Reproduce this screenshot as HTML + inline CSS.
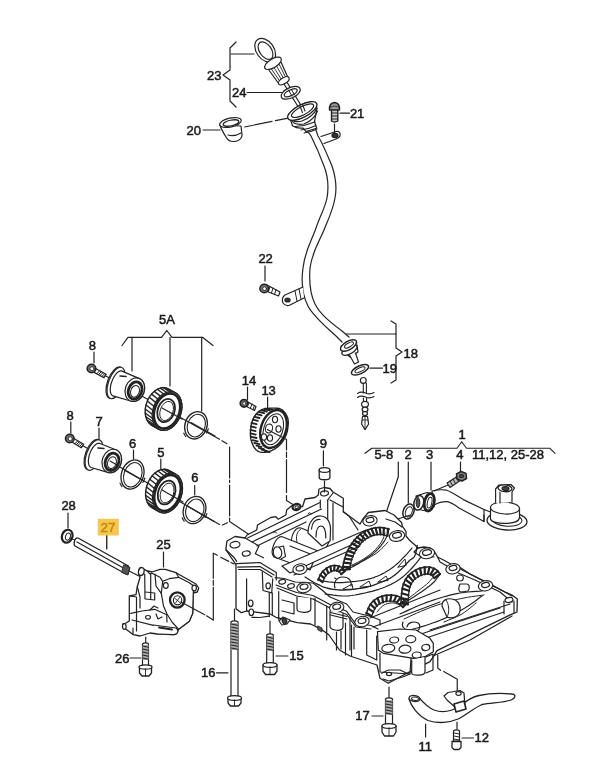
<!DOCTYPE html>
<html><head><meta charset="utf-8"><style>
html,body{margin:0;padding:0;background:#fff;}
svg{display:block;filter:blur(0.4px);}
text{font-family:"Liberation Sans",sans-serif;font-size:13px;fill:#1a1a1a;stroke:#1a1a1a;stroke-width:0.5px;}
</style></head><body>
<svg width="600" height="773" viewBox="0 0 600 773">
<rect width="600" height="773" fill="#fff"/>
<g fill="none" stroke="#222" stroke-width="1.2" stroke-linejoin="round" stroke-linecap="round">
<!-- ===== TOP: dipstick ===== -->
<!-- brace 23 -->
<path d="M236,42 L230,48 L230,70 L223,75 L230,80 L230,101 L236,107"/>
<path d="M231,54 L254,54"/>
<path d="M247,92.5 L282,92.5"/>
<path d="M203,130 L220,130"/>
<!-- cap 20 -->
<g fill="#fff">
<path d="M220,125 Q221,129 226,137 Q229,143 237,141 Q242,139 242,135 L241,126 Z"/>
<ellipse cx="230.5" cy="122.5" rx="11" ry="4.5" transform="rotate(-12 230.5 122.5)"/>
<ellipse cx="231" cy="123" rx="8" ry="2.8" transform="rotate(-12 231 123)"/>
</g>
<path d="M228,135 Q234,137 241,133"/>
<!-- dashed line cap->funnel -->
<path d="M244.6,127 L287,118.3" stroke-dasharray="28 3.5 14"/>
<!-- ring -->
<g fill="#fff">
<ellipse cx="265.2" cy="50.2" rx="8.8" ry="13" transform="rotate(-35 265.2 50.2)"/>
<ellipse cx="265.5" cy="50.6" rx="5.9" ry="9.9" transform="rotate(-35 265.5 50.6)"/>
</g>
<!-- grip -->
<path d="M266,66 L279,84 Q284,85 289,80 L281,62 Z" fill="#fff"/>
<path d="M270,67 L281,83 M273,66 L283,82 M276,65 L285,81 M279,64 L287,80" stroke-width="0.9"/>
<ellipse cx="273" cy="63.3" rx="9.5" ry="4.3" transform="rotate(-32 273 63.3)" fill="#fff"/>
<ellipse cx="283.8" cy="80.8" rx="6" ry="3" transform="rotate(-32 283.8 80.8)" fill="#fff"/>
<!-- shaft -->
<path d="M284,84 L302,113 M287.5,83 L305,112"/>
<!-- washer 24 -->
<ellipse cx="290.7" cy="92.8" rx="10.3" ry="5.2" transform="rotate(-25 290.7 92.8)" fill="#fff"/>
<ellipse cx="290.7" cy="92.8" rx="7" ry="2.8" transform="rotate(-25 290.7 92.8)"/>
<path d="M288.5,90 L292,96 M291.5,89.5 L294.5,95" stroke-width="1"/>

<!-- ===== tube ===== -->
<path d="M305.6,129 C308,132 310,134 311,136 C314,142 318,150 324,166 C328,176 329,186 327,198 C325,208 320,216 316,228 C312,240 305,250 303,268 C301,282 303,296 308,306 C313,316 325,326 336,336 L342,342"/>
<path d="M315,128 C316,130 317,133 318,136 C322,142 326,152 332,166 C336,178 337,188 335,198 C333,210 328,220 324,230 C320,240 312,252 310,268 C309,282 311,296 315,304 C320,314 330,322 342,331 L349,337"/>
<!-- neck of funnel -->
<path d="M288.5,114 L292.5,125.8 C296,128 300,128.5 303,128 L306,131.5 L316.7,128.3 L314.5,121.7 L317,108 Z" fill="#fff"/>
<path d="M295,126.5 Q305,126 315,122 M301,130 Q309,129 316,125.5 M304,133 Q311,132 317,129" stroke-width="1.1"/>
<path d="M288.6,114.5 Q292,124 302,121 Q313,117 317,108" stroke-width="1.2"/>
<path d="M290,118.5 Q294,126 304,124 Q314,120 317.5,111" stroke-width="1.2"/>
<ellipse cx="302.3" cy="111" rx="16.2" ry="6.3" transform="rotate(-27.5 302.3 111)" fill="#fff" stroke-width="1.4"/>
<ellipse cx="302.6" cy="110.7" rx="12.3" ry="4.2" transform="rotate(-27.5 302.6 110.7)" stroke-width="1.2"/>
<path d="M299.5,105 L302.5,112.5 M302.5,104.5 L305,111" stroke-width="1.1"/>
<!-- tab near 21 -->
<path d="M321,136.5 L336,131.5 Q341,131 340,136 Q339,138 336,139 L324,143.5" fill="#fff"/>
<ellipse cx="335" cy="135.5" rx="3" ry="2.2" fill="#333"/>
<path d="M334.5,124 L334.5,133"/>
<!-- bolt 21 -->
<path d="M331.5,110 L331.5,121 Q334.5,123 337.8,121 L337.8,110" fill="#ccc" stroke-width="1.4"/>
<path d="M332,113 L337.5,113 M332,116 L337.5,116 M332,119 L337.5,119" stroke-width="1"/>
<path d="M329.5,110 Q329,103 334.5,102.5 Q340,103 339.5,110 Z" fill="#999" stroke-width="1.4"/>
<path d="M330,107 Q334.5,105 339,107" stroke-width="0.8"/>
<path d="M340,113.2 L349.5,113.2"/>
<!-- tab near 22 -->
<path d="M303,287 L285,295 Q281,298 283,303 Q286,307 290,305 L304,298" fill="#fff"/>
<ellipse cx="287.5" cy="300" rx="2.6" ry="2" fill="#333"/>
<path d="M295,291 L297,301 M299,289 L301,299" stroke-width="1"/>
<!-- bolt 22 -->
<path d="M265,266 L265,281"/>
<path d="M267,285 L280,292 L278.5,296 L266,291" fill="#fff"/>
<path d="M270,286.5 L268.5,291.5 M273,288 L271.5,293 M276,289.5 L274.5,294.5" stroke-width="1"/>
<circle cx="264.2" cy="288.5" r="4.3" fill="#777" stroke-width="1.5"/>
<circle cx="264.6" cy="288.7" r="1.9" fill="#fff" stroke-width="0.9"/>
<!-- ===== lower dipstick 18/19 ===== -->
<path d="M346,334 L396,334"/>
<path d="M391,321 L396,324 L396,348 L402,352 L396,356 L396,380 L391,383"/>
<path d="M341,346 L344,352 L350,357 L358,352 L357,345 Z" fill="#fff"/>
<ellipse cx="349.5" cy="350" rx="8.5" ry="3.8" transform="rotate(-30 349.5 350)" fill="#fff" stroke-width="1.3"/>
<ellipse cx="348.5" cy="345.5" rx="9" ry="4.2" transform="rotate(-30 348.5 345.5)" fill="#fff" stroke-width="1.5"/>
<ellipse cx="349" cy="345" rx="5" ry="2" transform="rotate(-30 349 345)" stroke-width="1"/>
<path d="M349.5,355 L354.5,364 L358.5,362 L355.5,353" fill="#fff"/>
<ellipse cx="360" cy="369.8" rx="9.3" ry="3.9" transform="rotate(-25 360 369.8)" fill="#fff" stroke-width="1.5"/>
<ellipse cx="360" cy="369.8" rx="5.5" ry="1.9" transform="rotate(-25 360 369.8)" stroke-width="1"/>
<path d="M370,368.1 L382.5,368.1"/>
<circle cx="363.3" cy="380.4" r="2.9" fill="#fff"/>
<path d="M363.3,383.3 L363.3,393 M366.4,383.3 L366.4,393" stroke-width="1.1"/>
<path d="M357.5,393.5 Q361,391 365.5,393 Q370,395 374,392.5 M357.5,397.5 Q361,395 365.5,397 Q370,399 374,396.5" stroke-width="1.1"/>
<path d="M363.4,398 L363.4,401 M366.6,398 L366.6,401" stroke-width="1.1"/>
<ellipse cx="365" cy="404.3" rx="3.4" ry="3" fill="#fff" stroke-width="1.2"/>
<ellipse cx="365" cy="409.4" rx="2.9" ry="2.3" fill="#fff" stroke-width="1.2"/>
<ellipse cx="365" cy="413.6" rx="2.5" ry="2" fill="#fff" stroke-width="1.2"/>
<path d="M362.5,416.5 L367.5,416.5 L368.6,424 L365,429.6 L361.6,424 Z" fill="#fff" stroke-width="1.2"/>
<path d="M362.2,420 L367.9,420 M365,416.5 L365,429" stroke-width="0.9"/>
<path d="M122,345.5 L128,337.3 L161.5,337.3 L166.8,330.5 L172,337.3 L202.5,337.3 L213,345.5"/>
<path d="M132,337.3 L132,371 M170,337.3 L170,386 M201.7,337.3 L201.7,411"/>
<path d="M94,352 L94,363 M70.8,422 L70.8,433 M99,428 L99,439 M133.5,450 L133.5,459 M160.8,459 L160.8,469 M194.7,485.5 L194.7,495"/>
<path d="M95,370 L219.5,439.3 M222,440.7 L227,443.8"/>
<path d="M229.6,447 L229.6,521.5" stroke-dasharray="31 2 2.5 2.5"/>
<path d="M229.6,521.5 L249,534.5"/>
<path d="M73,440 L219.5,524.5 M222.5,525 L227.5,522.8"/>
<path d="M92.7,371.6 L104.0,377.8 L106.0,374.2 L94.8,367.9" fill="#fff"/>
<path d="M96.7,373.8 L99.8,370.7" stroke-width="1"/>
<path d="M98.4,374.7 L101.4,371.6" stroke-width="1"/>
<path d="M100.0,375.6 L103.1,372.6" stroke-width="1"/>
<path d="M101.7,376.6 L104.8,373.5" stroke-width="1"/>
<path d="M103.2,377.4 L106.3,374.3" stroke-width="1"/>
<circle cx="91.5" cy="368.5" r="4.3" fill="#777" stroke-width="1.6"/>
<circle cx="92.0" cy="368.8" r="2.1" fill="#fff" stroke="#333" stroke-width="1"/>
<path d="M71.0,441.6 L81.4,447.8 L83.6,444.2 L73.1,438.0" fill="#fff"/>
<path d="M74.6,443.8 L77.8,440.8" stroke-width="1"/>
<path d="M76.2,444.7 L79.4,441.7" stroke-width="1"/>
<path d="M77.8,445.6 L80.9,442.6" stroke-width="1"/>
<path d="M79.3,446.6 L82.5,443.6" stroke-width="1"/>
<path d="M80.7,447.4 L83.9,444.4" stroke-width="1"/>
<circle cx="69.8" cy="438.5" r="4.3" fill="#777" stroke-width="1.6"/>
<circle cx="70.3" cy="438.8" r="2.1" fill="#fff" stroke="#333" stroke-width="1"/>
<ellipse cx="115" cy="382.6" rx="7.5" ry="16.5" transform="rotate(20 115 382.6)" fill="#fff"/>
<ellipse cx="116" cy="383" rx="7.5" ry="16.5" transform="rotate(20 116 383)" fill="#fff"/>
<path d="M110.3,389.1 L110.4,387.9 L110.5,386.7 L110.7,385.4 L111.0,384.1 L111.4,382.8 L111.9,381.4 L112.4,380.2 L112.9,378.9 L113.5,377.7 L114.2,376.6 L114.9,375.5 L115.6,374.6 L116.3,373.7 L117.1,372.9 L117.8,372.3 L118.6,371.7 L119.3,371.3 L120.0,371.1 L120.7,370.9 L121.4,370.9 L122.0,371.1 L138.9,378.4 L139.8,378.8 L140.7,379.4 L141.5,380.0 L142.2,380.7 L142.8,381.6 L143.4,382.5 L143.8,383.5 L144.2,384.6 L144.4,385.7 L144.6,386.9 L144.6,388.1 L144.6,389.3 L144.4,390.5 L144.1,391.8 L143.7,392.9 L143.2,394.1 L142.7,395.2 L142.0,396.3 L141.3,397.2 L140.5,398.1 L139.6,399.0 L138.7,399.7 L137.7,400.2 L136.7,400.7 L135.7,401.1 L134.7,401.3 L133.7,401.4 L132.6,401.4 L131.7,401.2 L130.7,401.0 L113.0,395.9 L112.4,395.6 L111.9,395.2 L111.5,394.7 L111.1,394.0 L110.8,393.2 L110.5,392.3 L110.4,391.3 L110.3,390.3 Z" fill="#fff"/>
<ellipse cx="134.8" cy="389.7" rx="9.5" ry="12" transform="rotate(20 134.8 389.7)" fill="#fff"/>
<ellipse cx="135.10000000000002" cy="390.5" rx="6.6499999999999995" ry="8.879999999999999" transform="rotate(20 135.10000000000002 390.5)" stroke-width="2.8"/>
<ellipse cx="135.0" cy="391.3" rx="4.275" ry="6.0" transform="rotate(20 135.0 391.3)" fill="#fff" stroke-width="1"/>
<path d="M120,376 L126,376.5" stroke-width="1.6"/>
<path d="M145.2,410.7 L145.3,409.0 L145.5,407.3 L145.9,405.6 L146.3,404.0 L146.9,402.3 L147.5,400.7 L148.2,399.1 L149.1,397.6 L150.0,396.2 L151.0,394.8 L152.0,393.6 L153.2,392.4 L154.3,391.4 L155.6,390.4 L156.8,389.6 L158.1,389.0 L159.4,388.4 L160.7,388.1 L161.9,387.8 L163.2,387.7 L164.5,387.8 L165.7,388.0 L166.9,388.3 L168.0,388.8 L175.0,392.7 L176.0,393.3 L177.0,394.1 L177.9,395.0 L178.8,396.0 L179.5,397.1 L180.2,398.4 L180.7,399.7 L181.1,401.1 L181.5,402.6 L181.7,404.1 L181.8,405.8 L181.8,407.4 L181.7,409.1 L181.5,410.8 L181.1,412.4 L180.7,414.1 L180.2,415.8 L179.5,417.4 L178.8,419.0 L177.9,420.5 L177.0,421.9 L176.0,423.3 L175.0,424.5 L173.8,425.7 L172.7,426.8 L171.5,427.7 L170.2,428.5 L168.9,429.1 L167.7,429.7 L166.4,430.1 L165.1,430.3 L163.8,430.4 L162.6,430.3 L161.3,430.1 L160.2,429.8 L159.0,429.3 L152.1,425.4 L151.0,424.8 L150.0,424.0 L149.1,423.1 L148.3,422.1 L147.5,421.0 L146.9,419.8 L146.3,418.4 L145.9,417.0 L145.5,415.5 L145.3,414.0 L145.2,412.4 Z" fill="#fff" stroke-width="1.4"/>
<path d="M180.2,415.8 L172.7,413.2" stroke-width="1.4"/>
<path d="M178.4,419.6 L170.8,416.9" stroke-width="1.4"/>
<path d="M176.2,423.0 L168.4,420.2" stroke-width="1.4"/>
<path d="M173.6,425.9 L165.7,422.9" stroke-width="1.4"/>
<path d="M170.7,428.2 L162.7,424.9" stroke-width="1.4"/>
<path d="M167.7,429.7 L159.6,426.1" stroke-width="1.4"/>
<path d="M164.6,430.4 L156.6,426.5" stroke-width="1.4"/>
<path d="M161.6,430.2 L153.6,426.1" stroke-width="1.4"/>
<path d="M158.8,429.2 L151.0,424.8" stroke-width="1.4"/>
<path d="M156.4,427.4 L148.7,422.7" stroke-width="1.4"/>
<path d="M154.5,424.9 L147.0,420.0" stroke-width="1.4"/>
<path d="M153.1,421.8 L145.8,416.7" stroke-width="1.4"/>
<path d="M152.3,418.2 L145.2,413.0" stroke-width="1.4"/>
<path d="M152.2,414.3 L145.3,409.0" stroke-width="1.4"/>
<path d="M152.7,410.2 L146.0,405.0" stroke-width="1.4"/>
<path d="M153.8,406.2 L147.4,401.0" stroke-width="1.4"/>
<path d="M155.6,402.4 L149.3,397.3" stroke-width="1.4"/>
<path d="M157.8,399.0 L151.6,394.1" stroke-width="1.4"/>
<path d="M160.4,396.1 L154.3,391.4" stroke-width="1.4"/>
<path d="M163.3,393.8 L157.3,389.3" stroke-width="1.4"/>
<path d="M166.3,392.3 L160.4,388.1" stroke-width="1.4"/>
<path d="M169.4,391.6 L163.5,387.7" stroke-width="1.4"/>
<path d="M172.4,391.8 L166.4,388.2" stroke-width="1.4"/>
<path d="M175.2,392.8 L169.0,389.4" stroke-width="1.4"/>
<path d="M177.6,394.6 L171.3,391.5" stroke-width="1.4"/>
<path d="M179.5,397.1 L173.0,394.2" stroke-width="1.4"/>
<path d="M180.9,400.2 L174.2,397.5" stroke-width="1.4"/>
<path d="M181.7,403.8 L174.8,401.2" stroke-width="1.4"/>
<path d="M181.8,407.7 L174.7,405.2" stroke-width="1.4"/>
<path d="M181.3,411.8 L174.0,409.2" stroke-width="1.4"/>
<ellipse cx="167" cy="411" rx="14" ry="20" transform="rotate(20 167 411)" fill="#fff" stroke-width="1.3"/>
<ellipse cx="167" cy="411" rx="12.4" ry="18.2" transform="rotate(20 167 411)" stroke-width="2.6"/>
<ellipse cx="166.127" cy="410.513" rx="8.4" ry="12.0" transform="rotate(20 166.127 410.513)" fill="#fff" stroke-width="1.8"/>
<ellipse cx="166.627" cy="411.013" rx="6.4" ry="10.0" transform="rotate(20 166.627 411.013)" stroke-width="0.9"/>
<path d="M162,408 L182,419"/>
<ellipse cx="196" cy="425.3" rx="11" ry="14" transform="rotate(20 196 425.3)" stroke-width="1.3"/>
<ellipse cx="196.3" cy="425.6" rx="8.8" ry="11.6" transform="rotate(20 196.3 425.6)" stroke-width="1.1"/>
<path d="M208.3,428.9 L208.1,429.6 L207.8,430.3 L207.5,431.0 L207.2,431.6 L206.9,432.3 L206.5,432.9" stroke-width="1.2"/>
<path d="M185.7,436.5 L185.4,436.0 L185.0,435.5 L184.7,435.0 L184.4,434.4 L184.1,433.8 L183.8,433.2" stroke-width="1.2"/>
<path d="M191,422.5 L215,436"/>
<ellipse cx="93" cy="454.6" rx="7.5" ry="16" transform="rotate(20 93 454.6)" fill="#fff"/>
<ellipse cx="94" cy="455" rx="7.5" ry="16" transform="rotate(20 94 455)" fill="#fff"/>
<path d="M88.4,460.9 L88.4,459.7 L88.6,458.5 L88.8,457.3 L89.1,456.0 L89.4,454.7 L89.9,453.4 L90.3,452.2 L90.9,451.0 L91.5,449.8 L92.1,448.7 L92.8,447.7 L93.5,446.8 L94.2,445.9 L95.0,445.2 L95.7,444.6 L96.5,444.1 L97.2,443.7 L97.9,443.4 L98.6,443.3 L99.3,443.3 L99.9,443.5 L115.8,449.7 L116.8,450.1 L117.6,450.6 L118.4,451.3 L119.1,452.0 L119.8,452.9 L120.3,453.8 L120.8,454.8 L121.1,455.9 L121.4,457.0 L121.5,458.2 L121.6,459.4 L121.5,460.6 L121.3,461.8 L121.1,463.1 L120.7,464.2 L120.2,465.4 L119.6,466.5 L119.0,467.6 L118.2,468.6 L117.4,469.4 L116.6,470.3 L115.6,471.0 L114.7,471.6 L113.7,472.0 L112.7,472.4 L111.6,472.6 L110.6,472.7 L109.6,472.7 L108.6,472.6 L107.7,472.3 L91.1,467.5 L90.6,467.2 L90.0,466.8 L89.6,466.3 L89.2,465.6 L88.9,464.9 L88.6,464.0 L88.5,463.1 L88.4,462.0 Z" fill="#fff"/>
<ellipse cx="111.75" cy="461" rx="9.5" ry="12" transform="rotate(20 111.75 461)" fill="#fff"/>
<ellipse cx="112.05" cy="461.8" rx="6.6499999999999995" ry="8.879999999999999" transform="rotate(20 112.05 461.8)" stroke-width="2.8"/>
<ellipse cx="111.95" cy="462.6" rx="4.275" ry="6.0" transform="rotate(20 111.95 462.6)" fill="#fff" stroke-width="1"/>
<path d="M98,448 L104,448.5" stroke-width="1.6"/>
<path d="M110,461 L118,465.5"/>
<ellipse cx="132.5" cy="474.5" rx="11" ry="15" transform="rotate(20 132.5 474.5)" stroke-width="1.3"/>
<ellipse cx="132.8" cy="474.8" rx="8.8" ry="12.6" transform="rotate(20 132.8 474.8)" stroke-width="1.1"/>
<path d="M144.8,478.0 L144.6,478.8 L144.3,479.5 L144.0,480.2 L143.7,480.9 L143.3,481.6 L142.9,482.3" stroke-width="1.2"/>
<path d="M121.9,486.6 L121.6,486.1 L121.2,485.5 L120.9,484.9 L120.6,484.3 L120.3,483.7 L120.1,483.1" stroke-width="1.2"/>
<path d="M125,470.5 L140,479"/>
<path d="M145.6,494.6 L145.6,492.9 L145.8,491.2 L146.0,489.5 L146.3,487.7 L146.8,486.0 L147.4,484.3 L148.0,482.6 L148.8,481.0 L149.6,479.5 L150.6,478.0 L151.6,476.6 L152.6,475.3 L153.8,474.1 L154.9,473.1 L156.2,472.1 L157.4,471.3 L158.7,470.6 L160.0,470.0 L161.3,469.6 L162.6,469.4 L163.9,469.3 L165.1,469.3 L166.3,469.5 L167.5,469.8 L168.7,470.3 L175.6,474.2 L176.7,474.9 L177.7,475.6 L178.6,476.5 L179.4,477.6 L180.2,478.7 L180.8,480.0 L181.3,481.3 L181.8,482.8 L182.1,484.3 L182.3,485.9 L182.4,487.5 L182.4,489.2 L182.3,490.9 L182.0,492.6 L181.7,494.4 L181.2,496.1 L180.7,497.8 L180.0,499.4 L179.2,501.1 L178.4,502.6 L177.5,504.1 L176.5,505.5 L175.4,506.8 L174.2,508.0 L173.1,509.1 L171.8,510.0 L170.6,510.8 L169.3,511.5 L168.0,512.1 L166.7,512.5 L165.4,512.7 L164.1,512.9 L162.9,512.8 L161.7,512.6 L160.5,512.3 L159.4,511.8 L152.4,507.9 L151.3,507.2 L150.3,506.5 L149.4,505.6 L148.6,504.5 L147.9,503.4 L147.2,502.1 L146.7,500.8 L146.3,499.3 L145.9,497.8 L145.7,496.2 Z" fill="#fff" stroke-width="1.4"/>
<path d="M180.7,497.8 L173.2,495.2" stroke-width="1.4"/>
<path d="M178.9,501.7 L171.2,499.0" stroke-width="1.4"/>
<path d="M176.7,505.2 L168.8,502.4" stroke-width="1.4"/>
<path d="M174.0,508.2 L166.1,505.2" stroke-width="1.4"/>
<path d="M171.1,510.5 L163.1,507.2" stroke-width="1.4"/>
<path d="M168.0,512.1 L160.0,508.5" stroke-width="1.4"/>
<path d="M164.9,512.8 L156.9,509.0" stroke-width="1.4"/>
<path d="M161.9,512.7 L154.0,508.5" stroke-width="1.4"/>
<path d="M159.2,511.7 L151.3,507.2" stroke-width="1.4"/>
<path d="M156.8,509.8 L149.1,505.2" stroke-width="1.4"/>
<path d="M154.9,507.3 L147.3,502.4" stroke-width="1.4"/>
<path d="M153.5,504.1 L146.2,499.0" stroke-width="1.4"/>
<path d="M152.7,500.4 L145.6,495.3" stroke-width="1.4"/>
<path d="M152.6,496.5 L145.8,491.2" stroke-width="1.4"/>
<path d="M153.2,492.3 L146.5,487.0" stroke-width="1.4"/>
<path d="M154.3,488.2 L147.9,483.0" stroke-width="1.4"/>
<path d="M156.1,484.3 L149.8,479.2" stroke-width="1.4"/>
<path d="M158.3,480.8 L152.2,475.8" stroke-width="1.4"/>
<path d="M161.0,477.8 L154.9,473.1" stroke-width="1.4"/>
<path d="M163.9,475.5 L157.9,471.0" stroke-width="1.4"/>
<path d="M167.0,473.9 L161.1,469.7" stroke-width="1.4"/>
<path d="M170.1,473.2 L164.1,469.3" stroke-width="1.4"/>
<path d="M173.1,473.3 L167.1,469.7" stroke-width="1.4"/>
<path d="M175.8,474.3 L169.7,471.0" stroke-width="1.4"/>
<path d="M178.2,476.2 L171.9,473.0" stroke-width="1.4"/>
<path d="M180.1,478.7 L173.7,475.8" stroke-width="1.4"/>
<path d="M181.5,481.9 L174.8,479.2" stroke-width="1.4"/>
<path d="M182.3,485.6 L175.4,483.0" stroke-width="1.4"/>
<path d="M182.4,489.5 L175.3,487.0" stroke-width="1.4"/>
<path d="M181.8,493.7 L174.5,491.2" stroke-width="1.4"/>
<ellipse cx="167.5" cy="493" rx="14" ry="20.5" transform="rotate(20 167.5 493)" fill="#fff" stroke-width="1.3"/>
<ellipse cx="167.5" cy="493" rx="12.4" ry="18.7" transform="rotate(20 167.5 493)" stroke-width="2.6"/>
<ellipse cx="166.627" cy="492.513" rx="8.4" ry="12.299999999999999" transform="rotate(20 166.627 492.513)" fill="#fff" stroke-width="1.8"/>
<ellipse cx="167.127" cy="493.013" rx="6.4" ry="10.299999999999999" transform="rotate(20 167.127 493.013)" stroke-width="0.9"/>
<path d="M162,490 L183,502"/>
<ellipse cx="194.5" cy="510" rx="11" ry="14" transform="rotate(20 194.5 510)" stroke-width="1.3"/>
<ellipse cx="194.8" cy="510.3" rx="8.8" ry="11.6" transform="rotate(20 194.8 510.3)" stroke-width="1.1"/>
<path d="M206.8,513.6 L206.6,514.3 L206.3,515.0 L206.0,515.7 L205.7,516.3 L205.4,517.0 L205.0,517.6" stroke-width="1.2"/>
<path d="M184.2,521.2 L183.9,520.7 L183.5,520.2 L183.2,519.7 L182.9,519.1 L182.6,518.5 L182.3,517.9" stroke-width="1.2"/>
<path d="M188,506.5 L214,521.5"/>
<path d="M226,548 L227,541 L235,536.5 L245,538 L247,535 L256.7,530 L257.5,525 L270.8,517.5 L275.8,516.7 L278.3,519.2 L285.8,515 L286.7,510 L291.7,505.8 L302.5,506.7 L305,499 L315,497.5 L318.3,495 L319,489 L324,487.5 L330,488.5 L333,492 L343.3,498.3 L343.3,511.7 L360,524 L363.3,518.3 L368.3,512.5 L385,510.5 L394,515 L401.5,522.5 L402.3,526.2 L406,531.5 L406,536 L409,539.7 L415,545 L418,548 L424,547 L430,548 L434.5,551.7 L437.5,557 L443.5,560 L449,563 L468,573 L486.7,582.7 L505,592 L512,595 L517.3,599 L517,612 L510.7,614.7 L437,650.7 L433.3,656.7 L430,661.7 L406.7,673.3 L388.3,683.3 L380,678.3 L377,665 L368,662 L350,656 L339.5,650 L329,635 L326.7,633.3 L321.3,629.3 L310.7,624 L297.3,622.7 L276,617.3 L270,614 L246.7,611 L241.3,612.7 L236,608.7 L236,564.7 L226,550 Z" fill="#fff" stroke-width="1.3"/>
<ellipse cx="235" cy="544.7" rx="5" ry="3.2" transform="rotate(-8 235 544.7)" fill="#fff" stroke-width="1.2"/>
<ellipse cx="246.3" cy="553.5" rx="4" ry="2.5" transform="rotate(-8 246.3 553.5)" fill="#fff" stroke-width="1.2"/>
<path d="M226,549.7 L234.3,557.8 L236.7,561.3"/>
<path d="M245,538 L259,546 L255.3,553.7 L263.5,557.8"/>
<path d="M236,563.7 L260,562.5 L263.5,564.8 L276.3,572.4 L276.3,580"/>
<path d="M237.8,567.2 L260,566.6 L274,575"/>
<path d="M238.4,569.5 L260,569.5 L272,577"/>
<path d="M246.6,578.8 L246.6,611"/>
<ellipse cx="250.7" cy="603.3" rx="2.3" ry="3.3" fill="#fff"/>
<ellipse cx="251.3" cy="612.3" rx="2.3" ry="3.3" fill="#fff"/>
<path d="M251.8,617.3 L260,617.5 L269.3,616.2"/>
<path d="M262.3,571.8 L263,590.5 L271.7,592.8 L272.8,578.8" fill="#fff"/>
<ellipse cx="268.2" cy="585.8" rx="2.2" ry="3" fill="#fff"/>
<path d="M269.3,592.8 L269.3,616.5"/>
<path d="M272.3,593 L272.3,615"/>
<path d="M275.2,577.7 L284,578.5 L295,582 L313,583 L322,590 L330,597 L346.7,604 L353,612 L371,616.5 L380,620 L380,625"/>
<path d="M276,585 L284,588 L296.7,592.5 L313,595.5 L330,604.5 L346.7,611.3 L355,623 L371,625.5 L378,629"/>
<path d="M277,588 L296.7,596 L313,599 L330,608 L346.7,614.5 L356,627 L371,629"/>
<ellipse cx="282.2" cy="581.8" rx="3.4" ry="2.3" transform="rotate(-10 282.2 581.8)" fill="#fff" stroke-width="1.2"/>
<ellipse cx="291" cy="586" rx="3.4" ry="2.3" transform="rotate(-10 291 586)" fill="#fff" stroke-width="1.2"/>
<ellipse cx="304" cy="587.5" rx="7.2" ry="5.2" transform="rotate(-10 304 587.5)" fill="#fff" stroke-width="1.1"/>
<ellipse cx="304" cy="586.7" rx="4" ry="2.6" transform="rotate(-10 304 586.7)" fill="#fff" stroke-width="1.2"/>
<ellipse cx="336.7" cy="607.5" rx="7.2" ry="5.2" transform="rotate(-10 336.7 607.5)" fill="#fff" stroke-width="1.1"/>
<ellipse cx="336.7" cy="606.7" rx="4" ry="2.6" transform="rotate(-10 336.7 606.7)" fill="#fff" stroke-width="1.2"/>
<ellipse cx="362" cy="621.5999999999999" rx="7.2" ry="5.2" transform="rotate(-10 362 621.5999999999999)" fill="#fff" stroke-width="1.1"/>
<ellipse cx="362" cy="620.8" rx="4" ry="2.6" transform="rotate(-10 362 620.8)" fill="#fff" stroke-width="1.2"/>
<path d="M297,597 L297,609 C297,613 310.8,614 310.8,609 L310.8,598" fill="#fff"/>
<path d="M330,611 L330,626 C330,631 343,632 343,627 L343,613" fill="#fff"/>
<path d="M278.7,591.5 L278.7,619.7"/>
<path d="M315,598 L315,625"/>
<path d="M326.7,606 L326.7,640"/>
<path d="M350,617 L350,650"/>
<path d="M282,600 L294,603 L294,614 L282,611"/>
<path d="M283,617 L279,621 L282,625 L287,624 L290,620 Z" fill="#fff"/>
<ellipse cx="284.5" cy="621" rx="2.2" ry="2.8" transform="rotate(-20 284.5 621)" fill="#444"/>
<path d="M247.5,538 L320,502.5"/>
<path d="M252,542 L321.5,509"/>
<path d="M257,546 L306,522"/>
<path d="M273.5,533 q1.5,-3 3,0 M308,514 q1.5,-3 3,0" stroke-width="1"/>
<path d="M320.3,500 L320.3,508"/>
<path d="M327.7,500 L327.7,541"/>
<path d="M327.7,500 L333,493"/>
<path d="M330,500 L343,507"/>
<path d="M333,503 L333,540"/>
<path d="M301,528 L330,540 L322,556 L293,544 C289,541 294,526 301,528 Z" fill="#fff"/>
<path d="M300.5,529.5 C297,531 295.5,537 297,542" stroke-width="1"/>
<path d="M308,533 C308,521 315,515.5 321,516 C327,516.5 331,522 330.5,531 L330,541 L322,546 Z" fill="#fff"/>
<path d="M311.5,529 C312,522 316,519 320,519.5"/>
<path d="M316,537 C316,529 318.5,526 321,526 C324,526 326,530 325.8,538" />
<path d="M283,537 L318,551 L310,570 L274,557 C269,552 276,534 283,537 Z" fill="#fff"/>
<path d="M290,546 L318,557"/>
<ellipse cx="277.5" cy="552.5" rx="4.2" ry="5.8" transform="rotate(-10 277.5 552.5)" fill="#fff"/>
<path d="M279.5,547 L283.5,546 L285.5,556.5 L281.5,558.5"/>
<path d="M282,566 L366,530 L362,540 L290,573 Z" fill="#fff"/>
<path d="M294,575 L360,546"/>
<ellipse cx="300" cy="569.0999999999999" rx="7.2" ry="5.2" transform="rotate(-10 300 569.0999999999999)" fill="#fff" stroke-width="1.1"/>
<ellipse cx="300" cy="568.3" rx="4" ry="2.6" transform="rotate(-10 300 568.3)" fill="#fff" stroke-width="1.2"/>
<path d="M343.3,511.7 L349,516 L358,530"/>
<path d="M402,527 L395,522 L386,519"/>
<path d="M418,548 L414,552 L420,556 L434,557"/>
<path d="M437.5,557 L440,562 L447,566"/>
<path d="M458,566 L470,574 L490,584 L512,596"/>
<path d="M456,572 L475,580 L500,592 L512,602"/>
<ellipse cx="370" cy="520.8" rx="7.2" ry="5.1" transform="rotate(-10 370 520.8)" fill="#fff" stroke-width="1.1"/>
<ellipse cx="370" cy="520" rx="4" ry="2.5" transform="rotate(-10 370 520)" fill="#fff" stroke-width="1.2"/>
<ellipse cx="397" cy="536.0" rx="7.7" ry="5.300000000000001" transform="rotate(-10 397 536.0)" fill="#fff" stroke-width="1.1"/>
<ellipse cx="397" cy="535.2" rx="4.5" ry="2.7" transform="rotate(-10 397 535.2)" fill="#fff" stroke-width="1.2"/>
<ellipse cx="427" cy="553.3" rx="7.7" ry="5.300000000000001" transform="rotate(-10 427 553.3)" fill="#fff" stroke-width="1.1"/>
<ellipse cx="427" cy="552.5" rx="4.5" ry="2.7" transform="rotate(-10 427 552.5)" fill="#fff" stroke-width="1.2"/>
<ellipse cx="453" cy="568.8" rx="7.2" ry="5.1" transform="rotate(-10 453 568.8)" fill="#fff" stroke-width="1.1"/>
<ellipse cx="453" cy="568" rx="4" ry="2.5" transform="rotate(-10 453 568)" fill="#fff" stroke-width="1.2"/>
<ellipse cx="485.5" cy="585.8" rx="7.2" ry="5.1" transform="rotate(-10 485.5 585.8)" fill="#fff" stroke-width="1.1"/>
<ellipse cx="485.5" cy="585" rx="4" ry="2.5" transform="rotate(-10 485.5 585)" fill="#fff" stroke-width="1.2"/>
<ellipse cx="509" cy="600" rx="4" ry="2.5" transform="rotate(-10 509 600)" fill="#fff" stroke-width="1.2"/>
<ellipse cx="324.5" cy="493.4" rx="4" ry="2.5" transform="rotate(-10 324.5 493.4)" fill="#fff" stroke-width="1.2"/>
<ellipse cx="296.5" cy="507" rx="4" ry="3" transform="rotate(-15 296.5 507)" fill="#fff" stroke-width="2.2"/>
<ellipse cx="296.7" cy="507.2" rx="1.8" ry="1.3" transform="rotate(-15 296.7 507.2)" fill="#fff" stroke-width="1"/>
<path d="M504,601 L504,614"/>
<path d="M514,601 L514,613"/>
<ellipse cx="460" cy="578" rx="3.3" ry="3" fill="#fff"/>
<path d="M460,584 L467,584 Q470,585 469,589 L468,591 L461,592 Q458,591 459,587 Z" fill="#fff"/>
<path d="M389.0,529.0 L388.0,528.8 L387.0,528.5 L385.9,528.3 L384.9,528.0 L383.9,527.8 L382.9,527.7 L381.8,527.6 L380.8,527.5 L379.7,527.5 L378.7,527.5 L377.6,527.6 L376.6,527.7 L375.5,527.8 L374.5,527.9 L373.5,528.1 L372.5,528.4 L371.4,528.7 L370.4,529.0 L369.5,529.3 L368.5,529.7 L367.5,530.1 L366.6,530.6 L365.6,531.0 L364.7,531.5 L363.8,532.0 L362.9,532.6 L362.0,533.1 L361.1,533.7 L360.3,534.4 L359.5,535.0 L358.7,535.7 L357.9,536.4 L357.1,537.1 L356.4,537.9 L355.7,538.6 L355.0,539.4 L354.3,540.2 L353.7,541.0 L353.0,541.9 L352.4,542.7 L351.8,543.6 L351.3,544.5 L350.7,545.4 L350.2,546.2 L349.6,547.2 L349.1,548.1 L348.6,549.0 L348.1,549.9 L347.7,550.9 L347.2,551.8 L346.8,552.8 L346.4,553.7 L346.0,554.7 L345.6,555.7 L345.3,556.7 L345.0,557.7 L344.7,558.7 L344.4,559.7 L344.1,560.7 L343.9,561.7 L343.7,562.7 L343.4,563.8 L343.2,564.8 L343.0,565.8 L342.9,566.9 L342.8,567.9 L342.9,569.0 L343.0,570.0" stroke-width="1.6"/>
<path d="M387.5,535.8 L386.4,535.6 L385.3,535.3 L384.4,535.1 L383.5,534.9 L382.6,534.7 L381.9,534.6 L381.2,534.5 L380.6,534.5 L379.8,534.5 L378.9,534.5 L378.1,534.6 L377.3,534.6 L376.5,534.7 L375.7,534.8 L374.9,535.0 L374.2,535.2 L373.5,535.4 L372.7,535.6 L371.9,535.9 L371.1,536.2 L370.3,536.5 L369.6,536.9 L368.8,537.3 L368.0,537.7 L367.3,538.1 L366.6,538.5 L365.9,539.0 L365.2,539.4 L364.6,539.9 L363.9,540.4 L363.3,541.0 L362.7,541.5 L362.0,542.1 L361.4,542.7 L360.8,543.4 L360.3,544.0 L359.7,544.6 L359.2,545.3 L358.7,546.0 L358.2,546.7 L357.6,547.5 L357.1,548.3 L356.6,549.0 L356.2,549.8 L355.7,550.6 L355.2,551.4 L354.8,552.3 L354.4,553.1 L354.0,553.9 L353.6,554.7 L353.2,555.6 L352.8,556.4 L352.5,557.3 L352.2,558.1 L351.9,558.9 L351.6,559.7 L351.4,560.6 L351.2,561.5 L350.9,562.4 L350.7,563.3 L350.5,564.2 L350.3,565.2 L350.1,566.1 L349.9,567.0 L349.8,567.6 L349.8,567.9 L349.9,568.3 L350.0,569.2" stroke-width="1.3"/>
<path d="M388.0,528.8 L387.5,535.8" stroke-width="2.2"/>
<path d="M383.9,527.8 L383.5,534.9" stroke-width="2.2"/>
<path d="M379.7,527.5 L380.6,534.5" stroke-width="2.2"/>
<path d="M375.5,527.8 L377.3,534.6" stroke-width="2.2"/>
<path d="M371.4,528.7 L374.2,535.2" stroke-width="2.2"/>
<path d="M367.5,530.1 L371.1,536.2" stroke-width="2.2"/>
<path d="M363.8,532.0 L368.0,537.7" stroke-width="2.2"/>
<path d="M360.3,534.4 L365.2,539.4" stroke-width="2.2"/>
<path d="M357.1,537.1 L362.7,541.5" stroke-width="2.2"/>
<path d="M354.3,540.2 L360.3,544.0" stroke-width="2.2"/>
<path d="M351.8,543.6 L358.2,546.7" stroke-width="2.2"/>
<path d="M349.6,547.2 L356.2,549.8" stroke-width="2.2"/>
<path d="M347.7,550.9 L354.4,553.1" stroke-width="2.2"/>
<path d="M346.0,554.7 L352.8,556.4" stroke-width="2.2"/>
<path d="M344.7,558.7 L351.6,559.7" stroke-width="2.2"/>
<path d="M343.7,562.7 L350.7,563.3" stroke-width="2.2"/>
<path d="M342.9,566.9 L349.9,567.0" stroke-width="2.2"/>
<path d="M343.0,570.0 L350.0,569.2" stroke-width="2.2"/>
<path d="M343.0,570.0 L343.9,569.7 L345.2,569.4 L346.8,568.9 L348.4,568.4 L350.2,567.8 L352.0,567.0 L353.8,566.1 L355.8,565.0 L357.8,563.9 L359.9,562.6 L362.0,561.3 L364.0,560.0 L366.0,558.6 L368.1,557.2 L370.2,555.8 L372.2,554.2 L374.2,552.6 L376.0,551.0 L377.7,549.3 L379.4,547.5 L381.0,545.6 L382.5,543.7 L383.8,541.9 L385.0,540.0 L386.0,538.0 L386.9,535.9 L387.6,533.8 L388.1,531.9 L388.6,530.2 L389.0,529.0"/>
<path d="M350.0,566.0 L351.3,565.4 L353.1,564.6 L355.2,563.6 L357.6,562.4 L359.9,561.2 L362.0,560.0 L364.0,558.7 L366.1,557.3 L368.2,555.8 L370.3,554.2 L372.2,552.6 L374.0,551.0 L375.6,549.4 L377.1,547.7 L378.6,545.9 L379.9,544.2 L381.0,542.6 L382.0,541.0 L382.8,539.5 L383.5,537.9 L384.0,536.4 L384.4,535.0 L384.7,533.8 L385.0,533.0" stroke-width="1"/>
<path d="M318.0,580.0 L318.5,579.0 L318.9,578.0 L319.4,576.9 L319.8,575.9 L320.3,574.9 L320.9,574.0 L321.5,573.0 L322.2,572.1 L322.9,571.3 L323.7,570.5 L324.5,569.8 L325.4,569.1 L326.3,568.4 L327.3,567.8 L328.3,567.3 L329.3,566.8 L330.3,566.4 L331.3,566.0 L332.4,565.7 L333.5,565.6 L334.6,565.5 L335.8,565.5 L336.9,565.7 L338.0,565.9 L339.0,566.2 L340.1,566.6 L341.1,567.1 L342.0,567.7 L342.8,568.4 L343.6,569.3 L344.3,570.1 L345.0,571.0" stroke-width="1.6"/>
<path d="M322.6,582.1 L323.0,581.0 L323.5,580.0 L323.9,579.0 L324.3,578.1 L324.7,577.3 L325.1,576.6 L325.5,576.0 L326.0,575.4 L326.6,574.7 L327.2,574.1 L327.8,573.6 L328.4,573.1 L329.1,572.6 L329.8,572.2 L330.5,571.7 L331.3,571.4 L332.1,571.1 L332.8,570.8 L333.5,570.6 L334.1,570.5 L334.7,570.5 L335.3,570.5 L336.0,570.6 L336.8,570.8 L337.5,571.0 L338.2,571.2 L338.7,571.4 L338.9,571.6 L339.3,571.9 L339.8,572.5 L340.4,573.3 L341.2,574.2" stroke-width="1.3"/>
<path d="M318.5,579.0 L322.6,582.1" stroke-width="2.2"/>
<path d="M320.3,574.9 L324.3,578.1" stroke-width="2.2"/>
<path d="M322.9,571.3 L326.0,575.4" stroke-width="2.2"/>
<path d="M326.3,568.4 L328.4,573.1" stroke-width="2.2"/>
<path d="M330.3,566.4 L331.3,571.4" stroke-width="2.2"/>
<path d="M334.6,565.5 L334.1,570.5" stroke-width="2.2"/>
<path d="M339.0,566.2 L336.8,570.8" stroke-width="2.2"/>
<path d="M342.8,568.4 L338.9,571.6" stroke-width="2.2"/>
<path d="M345.0,571.0 L341.2,574.2" stroke-width="2.2"/>
<path d="M401.0,604.0 L401.0,602.8 L401.1,601.6 L401.1,600.4 L401.2,599.3 L401.2,598.1 L401.3,596.9 L401.4,595.7 L401.6,594.5 L401.7,593.3 L401.8,592.2 L402.0,591.0 L402.1,589.8 L402.3,588.6 L402.5,587.5 L402.8,586.3 L403.1,585.2 L403.5,584.0 L403.9,582.9 L404.4,581.8 L404.9,580.8 L405.5,579.7 L406.1,578.7 L406.8,577.7 L407.5,576.8 L408.2,575.8 L409.0,575.0 L409.9,574.1 L410.8,573.4 L411.7,572.6 L412.7,571.9 L413.7,571.3 L414.7,570.7 L415.7,570.1 L416.8,569.6 L417.9,569.1 L419.0,568.6 L420.1,568.2 L421.2,567.9 L422.4,567.6 L423.5,567.4 L424.7,567.2 L425.9,567.1 L427.1,567.0 L428.3,567.0 L429.5,567.1 L430.6,567.3 L431.8,567.7 L432.9,568.0 L434.0,568.5 L435.1,569.0 L436.1,569.6 L437.1,570.3 L437.9,571.1 L438.6,572.1 L439.3,573.0 L440.0,574.0" stroke-width="1.6"/>
<path d="M408.0,604.3 L408.0,603.0 L408.1,601.8 L408.1,600.7 L408.2,599.6 L408.2,598.5 L408.3,597.5 L408.4,596.4 L408.5,595.3 L408.6,594.2 L408.8,593.0 L408.9,591.9 L409.1,590.8 L409.2,589.8 L409.4,588.9 L409.6,588.0 L409.8,587.2 L410.1,586.4 L410.4,585.6 L410.8,584.8 L411.2,584.0 L411.6,583.2 L412.0,582.5 L412.5,581.7 L413.0,581.1 L413.5,580.4 L414.0,579.9 L414.6,579.3 L415.2,578.8 L415.9,578.2 L416.7,577.7 L417.4,577.2 L418.2,576.7 L419.0,576.3 L419.8,575.9 L420.6,575.5 L421.4,575.2 L422.2,574.9 L423.1,574.7 L423.9,574.4 L424.8,574.3 L425.6,574.1 L426.5,574.0 L427.2,574.0 L427.9,574.0 L428.5,574.1 L429.1,574.2 L429.7,574.4 L430.5,574.6 L431.2,574.9 L431.9,575.2 L432.3,575.4 L432.4,575.5 L432.6,575.8 L433.0,576.3 L433.6,577.1 L434.3,578.1" stroke-width="1.3"/>
<path d="M401.0,602.8 L408.0,604.3" stroke-width="2.2"/>
<path d="M401.2,598.1 L408.2,599.6" stroke-width="2.2"/>
<path d="M401.7,593.3 L408.5,595.3" stroke-width="2.2"/>
<path d="M402.3,588.6 L409.1,590.8" stroke-width="2.2"/>
<path d="M403.5,584.0 L409.8,587.2" stroke-width="2.2"/>
<path d="M405.5,579.7 L411.2,584.0" stroke-width="2.2"/>
<path d="M408.2,575.8 L413.0,581.1" stroke-width="2.2"/>
<path d="M411.7,572.6 L415.2,578.8" stroke-width="2.2"/>
<path d="M415.7,570.1 L418.2,576.7" stroke-width="2.2"/>
<path d="M420.1,568.2 L421.4,575.2" stroke-width="2.2"/>
<path d="M424.7,567.2 L424.8,574.3" stroke-width="2.2"/>
<path d="M429.5,567.1 L427.9,574.0" stroke-width="2.2"/>
<path d="M434.0,568.5 L430.5,574.6" stroke-width="2.2"/>
<path d="M437.9,571.1 L432.4,575.5" stroke-width="2.2"/>
<path d="M440.0,574.0 L434.3,578.1" stroke-width="2.2"/>
<path d="M401.0,604.0 L402.2,603.4 L403.8,602.5 L405.8,601.5 L407.9,600.4 L410.0,599.2 L412.0,598.0 L414.0,596.8 L416.0,595.5 L418.1,594.1 L420.1,592.7 L422.1,591.4 L424.0,590.0 L425.8,588.7 L427.6,587.3 L429.4,586.0 L431.0,584.7 L432.6,583.3 L434.0,582.0 L435.3,580.6 L436.5,579.0 L437.6,577.5 L438.6,576.1 L439.4,574.9 L440.0,574.0"/>
<path d="M409.0,598.0 L410.0,597.2 L411.3,596.2 L412.9,595.0 L414.6,593.7 L416.3,592.3 L418.0,591.0 L419.7,589.7 L421.4,588.4 L423.2,587.0 L424.9,585.6 L426.6,584.3 L428.0,583.0 L429.3,581.7 L430.5,580.3 L431.6,579.0 L432.6,577.8 L433.4,576.8 L434.0,576.0" stroke-width="1"/>
<path d="M366.0,614.0 L366.4,612.9 L366.9,611.8 L367.3,610.7 L367.8,609.6 L368.2,608.5 L368.7,607.4 L369.2,606.3 L369.8,605.3 L370.5,604.3 L371.2,603.3 L372.0,602.4 L372.8,601.5 L373.7,600.7 L374.6,600.0 L375.6,599.3 L376.6,598.6 L377.6,598.1 L378.7,597.5 L379.8,597.1 L380.9,596.6 L382.1,596.2 L383.2,595.9 L384.4,595.6 L385.5,595.4 L386.7,595.3 L387.9,595.2 L389.1,595.1 L390.3,595.1 L391.5,595.1 L392.7,595.2 L393.9,595.3 L395.1,595.5 L396.2,595.8 L397.4,596.1 L398.5,596.6 L399.6,597.1 L400.6,597.7 L401.6,598.3 L402.6,598.9 L403.6,599.7 L404.5,600.5 L405.3,601.3 L406.2,602.2 L407.0,603.0" stroke-width="1.6"/>
<path d="M371.6,616.2 L372.0,615.1 L372.5,613.9 L372.9,612.9 L373.3,611.8 L373.7,610.9 L374.1,609.9 L374.5,609.1 L374.9,608.4 L375.4,607.7 L375.9,607.1 L376.5,606.4 L377.0,605.8 L377.6,605.2 L378.3,604.7 L378.9,604.3 L379.7,603.8 L380.4,603.4 L381.2,603.0 L382.1,602.6 L383.0,602.3 L383.9,602.0 L384.7,601.7 L385.6,601.5 L386.5,601.3 L387.4,601.2 L388.3,601.1 L389.3,601.1 L390.2,601.1 L391.2,601.1 L392.2,601.2 L393.1,601.3 L394.0,601.4 L394.7,601.6 L395.4,601.8 L396.1,602.1 L396.8,602.4 L397.6,602.9 L398.4,603.4 L399.1,603.8 L399.7,604.3 L400.4,604.9 L401.1,605.6 L401.9,606.4 L402.8,607.3" stroke-width="1.3"/>
<path d="M366.4,612.9 L371.6,616.2" stroke-width="2.2"/>
<path d="M368.2,608.5 L373.3,611.8" stroke-width="2.2"/>
<path d="M370.5,604.3 L374.9,608.4" stroke-width="2.2"/>
<path d="M373.7,600.7 L377.0,605.8" stroke-width="2.2"/>
<path d="M377.6,598.1 L379.7,603.8" stroke-width="2.2"/>
<path d="M382.1,596.2 L383.0,602.3" stroke-width="2.2"/>
<path d="M386.7,595.3 L386.5,601.3" stroke-width="2.2"/>
<path d="M391.5,595.1 L390.2,601.1" stroke-width="2.2"/>
<path d="M396.2,595.8 L394.0,601.4" stroke-width="2.2"/>
<path d="M400.6,597.7 L396.8,602.4" stroke-width="2.2"/>
<path d="M404.5,600.5 L399.7,604.3" stroke-width="2.2"/>
<path d="M407.0,603.0 L402.8,607.3" stroke-width="2.2"/>
<path d="M377.0,612.0 L377.7,611.2 L378.7,610.0 L379.9,608.6 L381.2,607.2 L382.6,606.0 L384.0,605.0 L385.5,604.3 L387.1,603.7 L388.9,603.3 L390.6,603.0 L392.4,602.9 L394.0,603.0 L395.7,603.4 L397.4,604.0 L399.1,604.9 L400.7,605.7 L402.0,606.5 L403.0,607.0" stroke-width="1"/>
<path d="M334.7,578.0 L335.5,578.5 L336.5,579.1 L337.8,579.9 L339.2,580.7 L340.6,581.4 L342.0,582.0 L343.5,582.5 L345.1,582.9 L346.8,583.2 L348.4,583.6 L349.7,583.8 L350.7,584.0" stroke-width="1.1"/>
<path d="M335,588 C333,582 337,577 343,577 C349,577 352,581 351,586" fill="#fff"/>
<path d="M305.0,577.0 L306.2,577.7 L307.9,578.8 L309.8,580.0 L311.9,581.2 L314.1,582.5 L316.0,583.5 L317.8,584.4 L319.5,585.2 L321.2,586.0 L323.0,586.8 L324.8,587.4 L326.7,588.0 L328.8,588.5 L330.9,589.0 L333.2,589.3 L335.5,589.6 L337.8,589.9 L340.0,590.0 L342.2,590.1 L344.4,590.0 L346.6,589.9 L348.8,589.8 L351.1,589.5 L353.3,589.3 L355.6,589.0 L357.9,588.7 L360.2,588.4 L362.5,588.0 L364.8,587.5 L367.0,587.0 L369.2,586.4 L371.4,585.8 L373.6,585.1 L375.8,584.3 L377.9,583.5 L380.0,582.7 L382.1,581.9 L384.2,581.0 L386.2,580.1 L388.2,579.1 L390.2,578.1 L392.0,577.0 L393.7,575.8 L395.4,574.6 L396.9,573.3 L398.4,572.0 L399.9,570.6 L401.3,569.3 L402.7,567.9 L404.1,566.5 L405.4,565.0 L406.6,563.5 L407.9,562.2 L409.0,561.0 L410.1,560.0 L411.2,559.3 L412.2,558.6 L413.1,558.0 L414.0,557.1 L414.7,556.0 L415.3,554.4 L415.9,552.5 L416.4,550.3 L416.7,548.3 L417.1,546.5 L417.3,545.3" stroke-width="1.3"/>
<path d="M318.0,580.0 L319.8,580.3 L322.4,580.8 L325.4,581.3 L328.6,581.8 L331.8,582.2 L334.7,582.5 L337.3,582.6 L339.9,582.6 L342.4,582.6 L344.8,582.4 L347.4,582.2 L350.0,582.0 L352.7,581.7 L355.6,581.4 L358.5,581.0 L361.3,580.6 L364.1,580.1 L366.7,579.5 L369.1,578.9 L371.4,578.3 L373.6,577.6 L375.7,576.8 L377.8,576.0 L380.0,575.0 L382.2,573.9 L384.5,572.7 L386.8,571.3 L389.1,569.9 L391.2,568.5 L393.3,567.0 L395.3,565.4 L397.2,563.8 L399.0,562.1 L400.7,560.3 L402.4,558.6 L404.0,557.0 L405.6,555.3 L407.2,553.6 L408.7,551.9 L410.0,550.3 L411.2,549.0 L412.0,548.0" stroke-width="1.2"/>
<path d="M325.0,594.0 L327.2,594.3 L330.2,594.7 L333.8,595.2 L337.6,595.6 L341.4,595.9 L345.0,596.0 L348.3,595.8 L351.7,595.5 L355.0,595.0 L358.3,594.4 L361.7,593.7 L365.0,593.0 L368.4,592.2 L371.9,591.3 L375.3,590.3 L378.7,589.3 L382.0,588.2 L385.0,587.0 L387.8,585.8 L390.5,584.6 L393.0,583.3 L395.4,582.0 L397.7,580.5 L400.0,579.0 L402.2,577.3 L404.3,575.6 L406.4,573.7 L408.3,571.8 L410.2,569.9 L412.0,568.0 L413.8,566.0 L415.6,563.9 L417.2,561.8 L418.8,559.9 L420.1,558.2 L421.0,557.0" stroke-width="1.2"/>
<path d="M343,589 L352,584 L353,589 Z M360,587 L369,581 L371,586 Z M378,582 L386,576 L388,580 Z M398,567 L405,559 L406,565 Z" stroke-width="1"/>
<path d="M352.0,566.0 L353.4,565.4 L355.4,564.5 L357.7,563.5 L360.2,562.4 L362.7,561.2 L365.0,560.0 L367.2,558.8 L369.4,557.6 L371.7,556.2 L373.9,554.9 L376.0,553.5 L378.0,552.0 L380.0,550.3 L381.9,548.4 L383.8,546.5 L385.5,544.7 L386.9,543.1 L388.0,542.0" stroke-width="1"/>
<path d="M400.0,614.0 L402.2,613.0 L405.2,611.6 L408.8,609.9 L412.6,608.2 L416.4,606.5 L420.0,605.0 L423.3,603.7 L426.7,602.4 L430.0,601.2 L433.3,600.1 L436.7,599.0 L440.0,598.0 L443.3,597.0 L446.6,596.1 L449.9,595.2 L453.2,594.4 L456.6,593.6 L460.0,593.0 L463.8,592.5 L468.0,592.0 L472.2,591.7 L476.2,591.4 L479.6,591.2 L482.0,591.0"/>
<path d="M404.0,619.0 L406.2,618.0 L409.2,616.6 L412.8,614.9 L416.6,613.2 L420.4,611.5 L424.0,610.0 L427.3,608.7 L430.7,607.4 L434.0,606.2 L437.3,605.1 L440.7,604.0 L444.0,603.0 L447.3,602.0 L450.7,601.1 L454.0,600.2 L457.3,599.4 L460.7,598.7 L464.0,598.0 L467.6,597.3 L471.4,596.7 L475.2,596.2 L478.8,595.7 L481.8,595.3 L484.0,595.0" stroke-width="1"/>
<path d="M410.0,630.0 L412.2,629.4 L415.2,628.5 L418.8,627.5 L422.6,626.4 L426.4,625.2 L430.0,624.0 L433.4,622.8 L436.7,621.6 L440.1,620.2 L443.5,618.9 L446.8,617.5 L450.0,616.0 L453.2,614.4 L456.3,612.8 L459.4,611.1 L462.4,609.4 L465.3,607.7 L468.0,606.0 L470.7,604.2 L473.5,602.3 L476.1,600.4 L478.5,598.6 L480.5,597.1 L482.0,596.0"/>
<path d="M444.0,622.0 L446.0,621.2 L448.8,620.0 L452.1,618.7 L455.6,617.2 L459.0,615.6 L462.0,614.0 L464.7,612.2 L467.5,610.1 L470.1,608.0 L472.5,606.0 L474.5,604.2 L476.0,603.0" stroke-width="1"/>
<path d="M403,622 C401,626 404,630 409,630" />
<path d="M442,606 C442,600 447,598 452,599 C458,600 461,605 460,611 C459,617 452,619 447,617 Z" fill="#fff"/>
<path d="M446,600 C449,604 450,612 447,617" stroke-width="1"/>
<path d="M370,618 L440,590 M373,627 L440,602" />
<path d="M504,612 L420,640"/>
<path d="M500,608 L418,635"/>
<path d="M510,604 L430,630"/>
<path d="M407,627 C408,622 414,621 418,623 C421,625 420,630 417,631" />
<path d="M366.7,630 L366.7,655 L376.7,660 L376.7,636"/>
<path d="M377.5,631.7 L400,629 L416,630 L430,638.3 L433.3,643.3 L433.3,651.7 L425,656.7 L413.3,658.3 L383.3,653.3 L378.3,650 L377.5,631.7 Z" fill="#fff"/>
<ellipse cx="394.2" cy="640" rx="4.5" ry="3" transform="rotate(-5 394.2 640)" fill="#fff"/>
<ellipse cx="410.8" cy="639.2" rx="5" ry="3.5" transform="rotate(-5 410.8 639.2)" fill="#fff"/>
<ellipse cx="388.3" cy="648.3" rx="6.5" ry="4" transform="rotate(-5 388.3 648.3)" fill="#fff"/>
<ellipse cx="405" cy="649.2" rx="6" ry="4" transform="rotate(-5 405 649.2)" fill="#fff"/>
<ellipse cx="425.8" cy="647.5" rx="4" ry="3" transform="rotate(-5 425.8 647.5)" fill="#fff"/>
<ellipse cx="416.7" cy="655" rx="4.5" ry="3" transform="rotate(-5 416.7 655)" fill="#fff"/>
<path d="M380,653 L380,672 L410,674 L411,658"/>
<path d="M411.7,660 L411.7,673 C412,676 425,676 425,672 L425,657" fill="#fff"/>
<path d="M426,657 L433,654 L433,670 L426,673"/>
<path d="M381.7,673.3 L388.3,670 L400,670 L408.3,674"/>
<ellipse cx="389" cy="674" rx="2.5" ry="1.6" fill="#fff"/>
<path d="M383,679 L389,681 L403.3,676.7 L410,674"/>
<path d="M433,656 L470,640 L512,616"/>
<path d="M336.5,632 L336.5,650"/>
<path d="M341,631 L341,649"/>
<path d="M345.5,623 L345.5,655"/>
<path d="M351.5,625 L351.5,656"/>
<path d="M354,627 L354,649"/>
<path d="M330.5,612.5 L347,616.5" stroke-width="1.1"/>
<path d="M330.5,615 L347,619" stroke-width="1.1"/>
<path d="M318,626 L322,628 L322,632 L318,630 Z" fill="#555" stroke-width="0.8"/>
<path d="M365,453.3 L371.7,448.3 L457,448.3 L461.7,441.7 L466.5,448.3 L550,448.3 L555,453.3" stroke-width="1.1"/>
<path d="M398.3,462 L398.3,476.7 L386.7,511" stroke-width="1.2"/>
<path d="M408.3,462 L408.3,503" stroke-width="1.2"/>
<path d="M431,462 L431,490" stroke-width="1.2"/>
<path d="M460.5,462 L460.5,471" stroke-width="1.2"/>
<ellipse cx="408.5" cy="511.5" rx="5.3" ry="7.8" transform="rotate(20 408.5 511.5)" fill="#fff" stroke-width="1.5"/>
<ellipse cx="408.8" cy="511.8" rx="3.2" ry="5.3" transform="rotate(20 408.8 511.8)" stroke-width="1"/>
<path d="M410.5,515 L398.5,518.7" stroke-width="1.2"/>
<path d="M427,504 L413,509" stroke-width="1.2"/>
<path d="M432,491 C438,489.5 443,489.5 446.7,490.2 C452,492 458,496.5 463.3,499.6 L484,509.5 L484,521.5 L459,508 C455,505 451,502 446.7,501.7 C442,501.5 438,503 434,505 Z" fill="#fff"/>
<ellipse cx="507" cy="521" rx="20" ry="9" transform="rotate(3 507 521)" fill="#fff" stroke-width="1.3"/>
<ellipse cx="507" cy="520" rx="15" ry="6.2" transform="rotate(3 507 520)" stroke-width="1"/>
<path d="M490.5,508 L490.5,519 C492,525 518,525 519.5,518 L519.5,508" fill="#fff"/>
<ellipse cx="505" cy="508" rx="14.5" ry="6" transform="rotate(3 505 508)" fill="#fff"/>
<path d="M484,509.5 L490.5,512"/>
<path d="M484,515 L484,521.5"/>
<path d="M495.6,503 L495.6,489 L499,485 L511,484.5 L514.5,488 L512,492 L512,502" fill="#fff"/>
<ellipse cx="505" cy="488.3" rx="7" ry="3.4" transform="rotate(5 505 488.3)" fill="#fff" stroke-width="1.3"/>
<ellipse cx="505.5" cy="488.6" rx="3.4" ry="1.9" transform="rotate(5 505.5 488.6)" fill="#444"/>
<path d="M500,492 L500,503"/>
<path d="M416,496 L427,492.5 L432,494 L434.5,506 L429,511.5 L421,510 Z" fill="#fff"/>
<ellipse cx="429.3" cy="502.3" rx="4.8" ry="8.8" transform="rotate(12 429.3 502.3)" fill="#fff" stroke-width="2.8"/>
<ellipse cx="429.6" cy="502.6" rx="2.2" ry="5.5" transform="rotate(12 429.6 502.6)" stroke-width="1"/>
<ellipse cx="418.8" cy="502.8" rx="4.8" ry="7.4" transform="rotate(15 418.8 502.8)" fill="#fff" stroke-width="1.5"/>
<path d="M418,497.5 C415.5,499 415.5,506 418,508 C420,506.5 421,500 418,497.5 Z" fill="#555" stroke-width="1"/>
<path d="M448,485 L434,491" stroke-width="1.2"/>
<path d="M447,483 L458,476 L461,480 L450,487.5 Z" fill="#bbb"/>
<path d="M450,481 L452.5,485.5 M453,479 L455.5,483.5 M456,477 L458.5,481.5" stroke-width="1"/>
<path d="M456.5,474 L461,471.5 L466,473.5 L466.5,478.5 L462,481 L457,479 Z" fill="#888" stroke-width="1.5"/>
<ellipse cx="461.5" cy="476.2" rx="2" ry="1.5" fill="#555"/>
<path d="M68,513 L68,528" stroke-width="1.2"/>
<ellipse cx="67.2" cy="536.2" rx="5.2" ry="6.6" transform="rotate(20 67.2 536.2)" fill="#fff" stroke-width="2.2"/>
<ellipse cx="68" cy="536.6" rx="2.4" ry="3.6" transform="rotate(20 68 536.6)" fill="#fff" stroke-width="1"/>
<path d="M70,538 L77,541" stroke-width="1.2"/>
<path d="M78,538 L128.5,566 L126,574 L75,546 C73,544 75,537 78,538 Z" fill="#fff" stroke-width="1.3"/>
<path d="M77,542 L127,570" stroke-width="1.2"/>
<path d="M124,565 L130,567.5 L128,575 L122,572.5 Z" fill="#555" stroke-width="1"/>
<path d="M129,571 L139,576" stroke-width="1.2"/>
<path d="M106.7,535.5 L106.7,549" stroke-width="1.2"/>
<path d="M163.5,552 L163.5,567" stroke-width="1.2"/>
<path d="M138.7,571 L141,568 L146.7,570.7 L152,572 L160,569.3 L165.3,569.3 L176,572.7 L186.7,578.7 L196,584 L198.7,588 L197.3,592 L193.3,593 L192.7,613.3 L189.3,621.3 L178.7,629.3 L177.3,632 L173.3,634.7 L157.3,634 L150,633 L140,636 L133.3,634.7 L126,629.3 L122.7,624 L126,623 L129.3,621 L129.3,596 L136,594.7 L137.3,586.7 L140,577.3 L138.7,573 Z" fill="#fff" stroke-width="1.3"/>
<path d="M146.7,570.7 L150,574 L152,573.3 L160,577.3 L162.7,581.3"/>
<path d="M176,572.7 L178.7,577.3" stroke-width="1.2"/>
<path d="M162.7,581.3 L169.3,578.7 L178.7,577.3 L189.3,582.7 L194.7,586.7 L193.3,592 L192.7,613.3 L189.3,621.3 L178.7,629.3 L172,622 L167,614 L163.5,606 L161.3,593.3 Z" fill="#fff"/>
<ellipse cx="177.3" cy="600" rx="7.3" ry="7.6" fill="#fff" stroke-width="2.3"/>
<ellipse cx="177.6" cy="600.3" rx="4.2" ry="4.6" fill="#fff" stroke-width="1.1"/>
<path d="M174.5,598 L180.5,603 M175.5,603 L179.5,597.5" stroke-width="0.9"/>
<ellipse cx="165.8" cy="585.5" rx="2.4" ry="2.8" fill="#fff" stroke-width="1.2"/>
<ellipse cx="194.2" cy="588" rx="2.2" ry="2.8" fill="#fff" stroke-width="1.2"/>
<ellipse cx="141.3" cy="571.5" rx="2.8" ry="4" transform="rotate(10 141.3 571.5)" fill="#fff" stroke-width="1.3"/>
<path d="M144.7,574 L145,598.7"/>
<path d="M150.7,574 L150.7,599"/>
<path d="M145.3,592 L154.7,593 L154.7,600 L145.5,599"/>
<path d="M137.3,586.7 L140,597 L140,608" stroke-width="1.2"/>
<path d="M155,574 L156,586 L161.3,593.3" stroke-width="1.2"/>
<path d="M130,596 L136.5,597 L136.5,631"/>
<path d="M130.7,613.3 L142,611 L154.7,609.3 L166.7,614.7 L167,622"/>
<path d="M132,620 L153.3,625.3 L157.3,628"/>
<ellipse cx="148" cy="617.3" rx="2.4" ry="1.8" fill="#fff"/>
<path d="M150,610 L154,606 L158,608" stroke-width="1.2"/>
<path d="M156,614 L158,619 L162,617" stroke-width="1.2"/>
<path d="M153.3,625 L176,628 C179,630 178.5,634 174,634.7 L157.3,634" fill="#fff"/>
<path d="M159,627.5 L172,629.5" stroke-width="1.8"/>
<ellipse cx="124.3" cy="626.5" rx="1.8" ry="2.8" fill="#fff"/>
<path d="M133,628 L133,634" stroke-width="1.2"/>
<path d="M181,602 L204.7,614.7" stroke-width="1.2"/>
<path d="M206.5,615.8 L213.3,620" stroke-width="1.2"/>
<path d="M213.3,553.3 L213.3,620" stroke-width="1.2" stroke-dasharray="25 2 5 2 40"/>
<path d="M213.3,553.3 L217.3,555.3" stroke-width="1.2"/>
<path d="M220.7,557.3 L234,564" stroke-width="1.2" stroke-dasharray="9 2.5"/>
<path d="M145.7,637 L145.7,644" stroke-width="1.2"/>
<path d="M130,658 L141,658" stroke-width="1.2"/>
<path d="M142.5,644 L142.5,666 L148.5,666 L148.5,644 C147,642.5 144,642.5 142.5,644 Z" fill="#fff"/>
<rect x="142.5" y="645" width="6" height="15" fill="#aaa" stroke="none"/>
<path d="M142.8,646 L148.2,647.2" stroke-width="1.1"/>
<path d="M142.8,649 L148.2,650.2" stroke-width="1.1"/>
<path d="M142.8,652 L148.2,653.2" stroke-width="1.1"/>
<path d="M142.8,655 L148.2,656.2" stroke-width="1.1"/>
<path d="M142.8,658 L148.2,659.2" stroke-width="1.1"/>
<path d="M139.5,667 L139.5,673 L142,676 L149,676 L151.5,673 L151.5,667 Z" fill="#fff" stroke-width="1.3"/>
<ellipse cx="145.5" cy="667" rx="6.5" ry="2.2" fill="#fff"/>
<path d="M145.5,669 L145.5,676" stroke-width="0.9"/>
<path d="M234.5,609 L234.5,622" stroke-width="1.2"/>
<path d="M216.5,672.8 L228,672.8" stroke-width="1.2"/>
<path d="M231,622 L231,697 L238,697 L238,622 C236.5,620.5 232.5,620.5 231,622 Z" fill="#fff"/>
<rect x="231" y="623" width="7" height="27" fill="#aaa" stroke="none"/>
<path d="M231.3,624 L237.7,625.2" stroke-width="1.1"/>
<path d="M231.3,627 L237.7,628.2" stroke-width="1.1"/>
<path d="M231.3,630 L237.7,631.2" stroke-width="1.1"/>
<path d="M231.3,633 L237.7,634.2" stroke-width="1.1"/>
<path d="M231.3,636 L237.7,637.2" stroke-width="1.1"/>
<path d="M231.3,639 L237.7,640.2" stroke-width="1.1"/>
<path d="M231.3,642 L237.7,643.2" stroke-width="1.1"/>
<path d="M231.3,645 L237.7,646.2" stroke-width="1.1"/>
<path d="M231.3,648 L237.7,649.2" stroke-width="1.1"/>
<path d="M228,698 L228,703 L230.5,706 L238.5,706 L241,703 L241,698 Z" fill="#fff" stroke-width="1.3"/>
<ellipse cx="234.5" cy="698" rx="7" ry="2.4" fill="#fff"/>
<path d="M234.5,700 L234.5,706" stroke-width="0.9"/>
<path d="M270,621 L270,634" stroke-width="1.2"/>
<path d="M276,656 L288,656" stroke-width="1.2"/>
<path d="M266.7,635 L266.7,664 L273.3,664 L273.3,635 C272,633.5 268,633.5 266.7,635 Z" fill="#fff"/>
<rect x="266.7" y="636" width="6.6" height="15" fill="#aaa" stroke="none"/>
<path d="M267,637 L273,638.2" stroke-width="1.1"/>
<path d="M267,640 L273,641.2" stroke-width="1.1"/>
<path d="M267,643 L273,644.2" stroke-width="1.1"/>
<path d="M267,646 L273,647.2" stroke-width="1.1"/>
<path d="M267,649 L273,650.2" stroke-width="1.1"/>
<path d="M263,665 L263,671 L265.5,674.5 L274.5,674.5 L277,671 L277,665 Z" fill="#fff" stroke-width="1.3"/>
<ellipse cx="270" cy="665" rx="7" ry="2.4" fill="#fff"/>
<path d="M270,667 L270,674.5" stroke-width="0.9"/>
<path d="M389,687 L389,698" stroke-width="1.2"/>
<path d="M372,716 L383,716" stroke-width="1.2"/>
<path d="M385.5,699 L385.5,725 L392.5,725 L392.5,699 C391,697.5 387,697.5 385.5,699 Z" fill="#fff"/>
<rect x="385.5" y="700" width="7" height="15" fill="#aaa" stroke="none"/>
<path d="M385.8,701 L392.2,702.2" stroke-width="1.1"/>
<path d="M385.8,704 L392.2,705.2" stroke-width="1.1"/>
<path d="M385.8,707 L392.2,708.2" stroke-width="1.1"/>
<path d="M385.8,710 L392.2,711.2" stroke-width="1.1"/>
<path d="M385.8,713 L392.2,714.2" stroke-width="1.1"/>
<path d="M382,726 L382,732 L384.5,736 L393.5,736 L396,732 L396,726 Z" fill="#fff" stroke-width="1.3"/>
<ellipse cx="389" cy="726" rx="7" ry="2.4" fill="#fff"/>
<path d="M389,728 L389,736" stroke-width="0.9"/>
<path d="M247.5,387 L247.5,399.8" stroke-width="1.2"/>
<path d="M267.6,397 L267.6,408" stroke-width="1.2"/>
<path d="M286.5,440 L286.5,500.5" stroke-width="1.2" stroke-dasharray="10 2 5.5 2 33 3"/>
<path d="M286.5,500.5 L293,504.5" stroke-width="1.2"/>
<path d="M265.0,408.5 L266.6,408.4 L268.9,408.3 L271.6,408.1 L274.3,408.1 L276.9,408.2 L279.0,408.5 L280.6,409.1 L282.0,409.9 L283.2,410.9 L284.3,412.0 L285.2,413.1 L286.0,414.3 L286.7,415.5 L287.3,416.7 L287.7,418.0 L288.0,419.3 L288.2,420.8 L288.3,422.5 L288.2,424.4 L288.0,426.5 L287.7,428.8 L287.3,431.0 L286.7,433.2 L286.0,435.3 L285.1,437.2 L284.1,439.1 L283.0,441.0 L281.8,442.7 L280.4,444.3 L279.0,445.8 L277.4,447.1 L275.7,448.3 L273.9,449.4 L272.1,450.3 L270.2,451.1 L268.5,451.7 L266.8,452.1 L265.1,452.4 L263.4,452.4 L261.8,452.4 L260.4,452.1 L259.0,451.7 L257.8,451.1 L256.7,450.3 L255.7,449.4 L254.9,448.3 L254.0,447.1 L253.3,445.8 L252.6,444.4 L252.0,442.8 L251.4,441.1 L250.9,439.2 L250.6,437.3 L250.4,435.3 L250.4,433.1 L250.5,430.7 L250.8,428.2 L251.1,425.7 L251.6,423.4 L252.2,421.3 L252.9,419.4 L253.8,417.6 L254.8,416.0 L255.8,414.5 L256.9,413.2 L258.0,412.0 L259.2,411.0 L260.5,410.3 L261.9,409.7 L263.1,409.2 L264.2,408.8 L265.0,408.5 Z" fill="#fff" stroke-width="1.4"/>
<path d="M264.6,450.8 L269.6,452.0" stroke-width="1.9"/>
<path d="M261.6,449.6 L266.6,450.8" stroke-width="1.9"/>
<path d="M258.9,447.9 L263.9,449.1" stroke-width="1.9"/>
<path d="M256.5,445.7 L261.5,446.9" stroke-width="1.9"/>
<path d="M254.4,443.0 L259.4,444.2" stroke-width="1.9"/>
<path d="M252.7,440.1 L257.7,441.3" stroke-width="1.9"/>
<path d="M251.5,436.8 L256.5,438.0" stroke-width="1.9"/>
<path d="M250.7,433.4 L255.7,434.6" stroke-width="1.9"/>
<path d="M250.5,429.9 L255.5,431.1" stroke-width="1.9"/>
<path d="M250.8,426.4 L255.8,427.6" stroke-width="1.9"/>
<path d="M251.5,423.0 L256.5,424.2" stroke-width="1.9"/>
<path d="M252.8,419.7 L257.8,420.9" stroke-width="1.9"/>
<path d="M254.5,416.8 L259.5,418.0" stroke-width="1.9"/>
<path d="M256.6,414.2 L261.6,415.4" stroke-width="1.9"/>
<path d="M259.1,412.0 L264.1,413.2" stroke-width="1.9"/>
<path d="M261.8,410.3 L266.8,411.5" stroke-width="1.9"/>
<path d="M264.8,409.2 L269.8,410.4" stroke-width="1.9"/>
<path d="M267.8,408.6 L272.8,409.8" stroke-width="1.9"/>
<ellipse cx="273.5" cy="429" rx="12.5" ry="19.5" transform="rotate(18 273.5 429)" fill="#fff" stroke-width="2.4"/>
<ellipse cx="273.3" cy="429.3" rx="9.5" ry="16" transform="rotate(18 273.3 429.3)" fill="#fff" stroke-width="1"/>
<ellipse cx="275" cy="419.5" rx="2.6" ry="3.2" fill="#fff" stroke-width="1.1"/>
<ellipse cx="278.5" cy="429" rx="2.6" ry="3.2" fill="#fff" stroke-width="1.1"/>
<ellipse cx="270" cy="438" rx="2.6" ry="3.2" fill="#fff" stroke-width="1.1"/>
<ellipse cx="264" cy="437" rx="2.6" ry="3.2" fill="#fff" stroke-width="1.1"/>
<ellipse cx="269" cy="428.5" rx="3.5" ry="4.5" transform="rotate(15 269 428.5)" fill="#fff" stroke-width="1.1"/>
<path d="M267.3,429.5 L286.5,439.5" stroke-width="1.2"/>
<path d="M246,401 L256,406.5 L254.5,410.5 L244.5,405.5 Z" fill="#fff"/>
<path d="M249,402.5 L247.5,406.5 M252,404 L250.5,408 M254.5,405.5 L253,409.5" stroke-width="1"/>
<circle cx="244" cy="403.3" r="3.8" fill="#666" stroke-width="1.6"/>
<circle cx="244.4" cy="403.5" r="1.6" fill="#fff" stroke="#333" stroke-width="0.9"/>
<path d="M323.4,450.8 L323.4,465.8" stroke-width="1.2"/>
<path d="M319.2,470 L319.2,477.5 C319.2,480.5 329.9,480.5 329.9,477.5 L329.9,470" fill="#fff" stroke-width="1.3"/>
<ellipse cx="324.5" cy="470" rx="5.35" ry="2.4" fill="#fff" stroke-width="1.3"/>
<path d="M324.5,481 L324.5,492" stroke-width="1.2"/>
<path d="M437.75,655 L437.75,668 L440.5,670.3" stroke-width="1.2"/>
<path d="M443.75,671.4 L457.25,679.3 L457.25,691" stroke-width="1.2"/>
<path d="M409,699 C411,706 418,716 428,720.5 C438,724 450,722.5 458,719 C466,715 474,708 482,704.5 C492,702.5 503,703 511,700 C516,698 516,694 512,694 C500,693 488,693.5 479,695.5 C472,697 466,701 460,706 C452,711 442,713 434,710 C427,707 422,701 419,697.5 Z" fill="#fff" stroke-width="1.3"/>
<ellipse cx="414.5" cy="698.5" rx="5.5" ry="3" transform="rotate(8 414.5 698.5)" fill="#fff" stroke-width="1.3"/>
<ellipse cx="415" cy="698.7" rx="3.5" ry="1.7" transform="rotate(8 415 698.7)" stroke-width="1"/>
<path d="M444,696 L448,692.5 L460,690.5 L464,693 L465,706 L456,708 L447,700 Z" fill="#fff" stroke-width="1.2"/>
<ellipse cx="458.5" cy="693.5" rx="2.6" ry="1.8" fill="#fff"/>
<path d="M454,704 L464,701 L466,709 L456,712 Z" fill="#fff" stroke-width="1.6"/>
<path d="M425.6,724 L425.6,737" stroke-width="1.2"/>
<path d="M457,722 L457,729" stroke-width="1.2"/>
<path d="M453.5,731 L453.5,741 L459.5,741 L459.5,731 C458,729.5 455,729.5 453.5,731 Z" fill="#fff"/>
<path d="M453.8,733 L459.2,734 M453.8,736 L459.2,737 M453.8,739 L459.2,740" stroke-width="1"/>
<path d="M452,741.5 L452,747.5 L454,749.5 L459,749.5 L461,747.5 L461,741.5 Z" fill="#fff" stroke-width="1.3"/>
<path d="M462,738 L473.5,738" stroke-width="1.2"/>
</g>
<g>
<text x="207" y="79.5">23</text>
<text x="232" y="97">24</text>
<text x="186.5" y="134.5">20</text>
<text x="349.9" y="118">21</text>
<text x="258.4" y="263">22</text>
<text x="403.6" y="357.5">18</text>
<text x="382.6" y="372.5">19</text>
<text x="159" y="323.5">5A</text>
<text x="88.7" y="350.3">8</text>
<text x="66.4" y="420">8</text>
<text x="95.5" y="425.6">7</text>
<text x="129" y="447.7">6</text>
<text x="157.2" y="456.7">5</text>
<text x="191.3" y="482">6</text>
<text x="241.7" y="385.2">14</text>
<text x="261.4" y="395">13</text>
<text x="319.8" y="448">9</text>
<text x="458.6" y="438.5">1</text>
<text x="374.4" y="459.3">5-8</text>
<text x="404.4" y="459.3">2</text>
<text x="426.1" y="459.3">3</text>
<text x="456.3" y="459.3">4</text>
<text x="471.9" y="459.3">11,12, 25-28</text>
<text x="61.4" y="510">28</text>
<text x="156.2" y="549.3">25</text>
<text x="115" y="662.5">26</text>
<text x="201.1" y="677">16</text>
<text x="289.3" y="660">15</text>
<text x="355.3" y="719.6">17</text>
<text x="418.6" y="750.7">11</text>
<text x="474.6" y="742">12</text>
</g>
<rect x="97.8" y="518.8" width="21" height="16.7" fill="#f6c64e"/>
<text x="100.4" y="531.6" style="fill:#c48a0c;stroke:#c48a0c;font-size:13.5px">27</text>
<path d="M106.7,535.5 L106.7,549" stroke="#333" stroke-width="1"/>
</svg>
</body></html>
